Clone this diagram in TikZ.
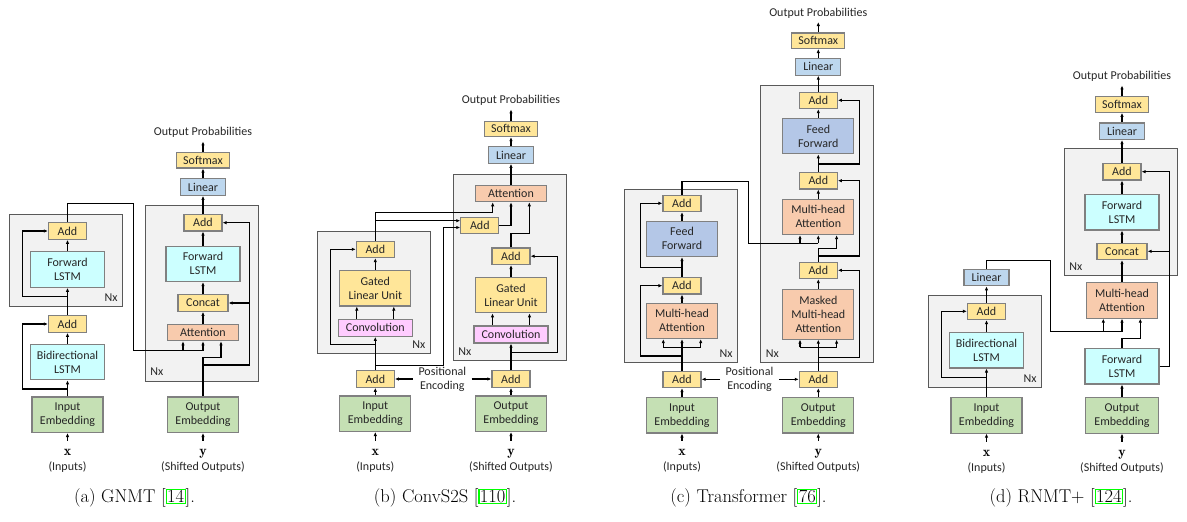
\documentclass[tikz,border=0pt]{standalone}
\usepackage{fontspec}
\newfontfamily\carlito{Carlito}
\usepackage{tikz}
\usetikzlibrary{arrows.meta}
\usepackage{xcolor}
\definecolor{addyel}{HTML}{FFE699}
\definecolor{linblue}{HTML}{BDD7EE}
\definecolor{ffblue}{HTML}{B4C7E7}
\definecolor{lstmcyan}{HTML}{CCFFFF}
\definecolor{attorange}{HTML}{F8CBAD}
\definecolor{embgreen}{HTML}{C5E0B4}
\definecolor{convpink}{HTML}{FFCCFF}
\definecolor{nxgray}{HTML}{F2F2F2}
\newcommand{\boxfont}{\carlito\fontsize{12}{14}\selectfont}
\newcommand{\refbox}[1]{[{\setlength{\fboxsep}{0.4pt}\setlength{\fboxrule}{1.1pt}\fcolorbox{green}{white}{#1}}]}

\begin{document}
\begin{tikzpicture}[
		x=1pt, y=-1pt,
		>={Latex[length=4pt,width=3.4pt]},
		line width=1.2pt,
		blk/.style={draw=black!50, line width=1.1pt, font=\boxfont, text=black!85, align=center, inner sep=0pt},
		addb/.style={blk, fill=addyel, minimum width=38pt, minimum height=16.5pt},
		softb/.style={blk, fill=addyel, minimum width=53pt, minimum height=15.5pt},
		catb/.style={blk, fill=addyel, minimum width=50pt, minimum height=16.5pt},
		linb/.style={blk, fill=linblue, minimum width=45pt, minimum height=16.5pt},
		bigb/.style={blk, minimum width=71pt, minimum height=35.5pt},
		lstmb/.style={bigb, fill=lstmcyan, minimum width=74pt},
		attb/.style={blk, fill=attorange, minimum width=71pt, minimum height=16pt},
		mhab/.style={bigb, fill=attorange},
		ffb/.style={bigb, fill=ffblue},
		glub/.style={bigb, fill=addyel},
		convb/.style={blk, fill=convpink, minimum width=74pt, minimum height=17pt},
		embb/.style={bigb, fill=embgreen},
		nxbox/.style={draw=black!65, fill=nxgray, line width=1pt, inner sep=0pt},
		nxlbl/.style={font=\boxfont, text=black!85, inner sep=5pt},
		outlbl/.style={font=\boxfont, text=black!85, inner sep=3pt},
		poslbl/.style={font=\boxfont, text=black!85, align=center, inner sep=5pt},
		sym/.style={inner sep=8pt, font=\fontsize{14}{16}\selectfont},
		caplbl/.style={font=\fontsize{18.5}{21}\selectfont}
	]

	\useasboundingbox[fill=white] (0,0) rectangle (1187,522);

	%% (a) GNMT
	\node[nxbox, minimum width=113.4pt, minimum height=92.4pt] (aEnc) at (66,260.5) {};
	\node[nxlbl, anchor=south east] (aEncN) at (aEnc.south east) {Nx};
	\node[nxbox, minimum width=113pt, minimum height=175.7pt] (aDec) at (201.8,293.2) {};
	\node[nxlbl, anchor=south west] (aDecN) at (aDec.south west) {Nx};

	\node[embb] (aEmbIn) at (67.5,414.7) {Input\\Embedding};
	\node[lstmb] (aBiL) at (67.5,362) {Bidirectional\\LSTM};
	\node[addb] (aAddE1) at (67.5,324) {Add};
	\node[lstmb] (aLstmE) at (67.5,269.5) {Forward\\LSTM};
	\node[addb] (aAddE2) at (67.5,231) {Add};

	\node[embb] (aEmbOut) at (203,414.7) {Output\\Embedding};
	\node[attb] (aAtt) at (203,332.7) {Attention};
	\node[catb] (aCat) at (203,303) {Concat};
	\node[lstmb] (aLstmD) at (203,263.8) {Forward\\LSTM};
	\node[addb] (aAddD) at (203,222.7) {Add};
	\node[linb] (aLin) at (203,187) {Linear};
	\node[softb] (aSoft) at (203,160.2) {Softmax};
	\node[outlbl] (aOut) at (203,132.7) {Output Probabilities};

	\node[sym, anchor=base] (aX) at (67.5,455.5) {$\mathbf{x}$};
	\node[outlbl, anchor=base] (aXl) at (67.5,470) {(Inputs)};
	\node[sym, anchor=base] (aY) at (203,455.5) {$\mathbf{y}$};
	\node[outlbl, anchor=base] (aYl) at (203,470) {(Shifted Outputs)};

	\coordinate (aJ1) at (67.5,389);
	\coordinate (aJ2) at (67.5,296.7);
	\coordinate (aK1) at (133.3,203.3);
	\coordinate (aJ3) at (203,350.7);
	\coordinate (aJ4) at (203,357.7);
	\coordinate (aJ5) at (203,365);

	\draw[->] (aX) -- (aEmbIn);
	\draw[->] (aEmbIn) -- (aBiL);
	\draw[->] (aJ1) -| ([xshift=-25.4pt]aAddE1.west) -- (aAddE1.west);
	\draw[->] (aBiL) -- (aAddE1);
	\draw[->] (aAddE1) -- (aLstmE);
	\draw[->] (aJ2) -| ([xshift=-25.4pt]aAddE2.west) -- (aAddE2.west);
	\draw[->] (aLstmE) -- (aAddE2);
	\draw (aAddE2.north) |- (aK1) |- (aJ3);
	\draw[->] ([xshift=-20pt]aJ3) -- ([xshift=-20pt]aAtt.south);
	\draw[->] (aJ3) -- (aAtt.south);

	\draw[->] (aY) -- (aEmbOut);
	\draw[->] (aEmbOut.north) |- ([xshift=18pt]aJ4) -- ([xshift=18pt]aAtt.south);
	\draw[->] (aJ5) -| ([xshift=27.3pt]aAddD.east) -- (aAddD.east);
	\draw[->] ([xshift=27.3pt]aAddD.east |- aCat.east) -- (aCat.east);
	\draw[->] (aAtt) -- (aCat);
	\draw[->] (aCat) -- (aLstmD);
	\draw[->] (aLstmD) -- (aAddD);
	\draw[->] (aAddD) -- (aLin);
	\draw[->] (aLin) -- (aSoft);
	\draw[->] (aSoft) -- (aOut);

	\node[caplbl] (aCap) at (134.5,498) {(a) GNMT \refbox{14}.};

	%% (b) ConvS2S
	\node[nxbox, minimum width=113pt, minimum height=121.6pt] (bEnc) at (373.8,292.5) {};
	\node[nxlbl, anchor=south east] (bEncN) at (bEnc.south east) {Nx};
	\node[nxbox, minimum width=113.4pt, minimum height=186.4pt] (bDec) at (510,267.5) {};
	\node[nxlbl, anchor=south west] (bDecN) at (bDec.south west) {Nx};

	\node[embb] (bEmbIn) at (375.3,413.7) {Input\\Embedding};
	\node[addb] (bAddPE) at (375.3,379) {Add};
	\node[convb] (bConvE) at (375.3,327.8) {Convolution};
	\node[glub] (bGluE) at (375.3,288.2) {Gated\\Linear Unit};
	\node[addb] (bAddE) at (375.3,249.3) {Add};

	\node[embb] (bEmbOut) at (511,413.7) {Output\\Embedding};
	\node[addb] (bAddPD) at (511,379) {Add};
	\node[convb] (bConvD) at (511,334.5) {Convolution};
	\node[glub] (bGluD) at (511,295) {Gated\\Linear Unit};
	\node[addb] (bAddD) at (511,256.2) {Add};
	\node[addb] (bAddX) at (479.8,225.3) {Add};
	\node[attb] (bAtt) at (511,193.7) {Attention};
	\node[linb] (bLin) at (511,155) {Linear};
	\node[softb] (bSoft) at (511,128.8) {Softmax};
	\node[outlbl] (bOut) at (511,100.7) {Output Probabilities};
	\node[poslbl] (bPos) at (442.3,379) {Positional\\Encoding};

	\node[sym, anchor=base] (bX) at (375.3,455.5) {$\mathbf{x}$};
	\node[outlbl, anchor=base] (bXl) at (375.3,470) {(Inputs)};
	\node[sym, anchor=base] (bY) at (511,455.5) {$\mathbf{y}$};
	\node[outlbl, anchor=base] (bYl) at (511,470) {(Shifted Outputs)};

	\coordinate (bJ1) at (375.3,365.3);
	\coordinate (bK1) at (443.3,227.5);
	\coordinate (bJ2) at (375.3,344.7);
	\coordinate (bJ3) at (375.3,212.3);
	\coordinate (bJ4) at (375.3,220.7);
	\coordinate (bJ5) at (511,352.3);
	\coordinate (bJ6) at (511,233.3);

	\draw[->] (bX) -- (bEmbIn);
	\draw[->] (bEmbIn) -- (bAddPE);
	\draw[->] (bPos) -- (bAddPE);
	\draw[->] (bAddPE) -- (bConvE);
	\draw[->] (bJ2) -| ([xshift=-25pt]bAddE.west) -- (bAddE.west);
	\draw[->] (bJ1) -| (bK1) -- (bK1 -| bAddX.west);
	\foreach \dx in {-18.5,18.5}
		\draw[->] ([xshift=\dx pt]bConvE.north) -- ([xshift=\dx pt]bGluE.south);
	\draw[->] (bGluE) -- (bAddE);
	\draw[->] (bAddE.north) -- (bJ3) -| ([xshift=-18.3pt]bAtt.south);
	\draw[->] (bJ4) -- (bJ4 -| bAddX.west);
	\draw[->] (bAddX.east) -| (bAtt.south);

	\draw[->] (bY) -- (bEmbOut);
	\draw[->] (bEmbOut) -- (bAddPD);
	\draw[->] (bPos) -- (bAddPD);
	\draw[->] (bAddPD) -- (bConvD);
	\draw[->] (bJ5) -| ([xshift=26.8pt]bAddD.east) -- (bAddD.east);
	\foreach \dx in {-18.5,18.5}
		\draw[->] ([xshift=\dx pt]bConvD.north) -- ([xshift=\dx pt]bGluD.south);
	\draw[->] (bGluD) -- (bAddD);
	\draw[->] (bAddD.north) -- (bJ6) -| ([xshift=18.3pt]bAtt.south);
	\draw[->] (bAtt) -- (bLin);
	\draw[->] (bLin) -- (bSoft);
	\draw[->] (bSoft) -- (bOut);

	\node[caplbl] (bCap) at (445,498) {(b) ConvS2S \refbox{110}.};

	%% (c) Transformer
	\node[nxbox, minimum width=113.4pt, minimum height=173.3pt] (cEnc) at (681,275.7) {};
	\node[nxlbl, anchor=south east] (cEncN) at (cEnc.south east) {Nx};
	\node[nxbox, minimum width=112.6pt, minimum height=276.6pt] (cDec) at (817,224) {};
	\node[nxlbl, anchor=south west] (cDecN) at (cDec.south west) {Nx};

	\node[embb] (cEmbIn) at (682,415.2) {Input\\Embedding};
	\node[addb] (cAddPE) at (682,379.3) {Add};
	\node[mhab] (cMhaE) at (682,320.8) {Multi-head\\Attention};
	\node[addb] (cAddE1) at (682,285.7) {Add};
	\node[ffb] (cFfE) at (682,238.8) {Feed\\Forward};
	\node[addb] (cAddE2) at (682,203.3) {Add};

	\node[embb] (cEmbOut) at (818.3,415.2) {Output\\Embedding};
	\node[addb] (cAddPD) at (818.3,379.3) {Add};
	\node[mhab, minimum height=49.7pt] (cMmha) at (818.3,314.2) {Masked\\Multi-head\\Attention};
	\node[addb] (cAddD1) at (818.3,270.3) {Add};
	\node[mhab] (cMhaD) at (818.3,216.8) {Multi-head\\Attention};
	\node[addb] (cAddD2) at (818.3,180.7) {Add};
	\node[ffb] (cFfD) at (818.3,136) {Feed\\Forward};
	\node[addb] (cAddD3) at (818.3,100.3) {Add};
	\node[linb] (cLin) at (818.3,66.8) {Linear};
	\node[softb] (cSoft) at (818.3,40.7) {Softmax};
	\node[outlbl] (cOut) at (818.3,13.3) {Output Probabilities};
	\node[poslbl] (cPos) at (749.5,379.3) {Positional\\Encoding};

	\node[sym, anchor=base] (cX) at (682,455.5) {$\mathbf{x}$};
	\node[outlbl, anchor=base] (cXl) at (682,470) {(Inputs)};
	\node[sym, anchor=base] (cY) at (818.3,455.5) {$\mathbf{y}$};
	\node[outlbl, anchor=base] (cYl) at (818.3,470) {(Shifted Outputs)};

	\coordinate (cJ1) at (682,347.3);
	\coordinate (cJ2) at (682,356);
	\coordinate (cJ3) at (682,267.3);
	\coordinate (cK1) at (748.3,181.7);
	\coordinate (cJ4) at (818.3,243.3);
	\coordinate (cJ5) at (818.3,347.3);
	\coordinate (cJ6) at (818.3,357.3);
	\coordinate (cJ7) at (818.3,248.3);
	\coordinate (cJ8) at (818.3,256);
	\coordinate (cJ9) at (818.3,164);

	\draw[->] (cX) -- (cEmbIn);
	\draw[->] (cEmbIn) -- (cAddPE);
	\draw[->] (cPos) -- (cAddPE);
	\draw (cAddPE) -- (cJ1);
	\draw ([xshift=-18.7pt]cJ1) -- ([xshift=18.7pt]cJ1);
	\foreach \dx in {-18.7,0,18.7}
		\draw[->] ([xshift=\dx pt]cJ1) -- ([xshift=\dx pt]cMhaE.south);
	\draw[->] (cJ2) -| ([xshift=-22.3pt]cAddE1.west) -- (cAddE1.west);
	\draw[->] (cMhaE) -- (cAddE1);
	\draw[->] (cAddE1) -- (cFfE);
	\draw[->] (cJ3) -| ([xshift=-22.3pt]cAddE2.west) -- (cAddE2.west);
	\draw[->] (cFfE) -- (cAddE2);
	\draw (cAddE2.north) |- (cK1) |- (cJ4);
	\foreach \dx in {-18.3,0}
		\draw[->] ([xshift=\dx pt]cJ4) -- ([xshift=\dx pt]cMhaD.south);

	\draw[->] (cY) -- (cEmbOut);
	\draw[->] (cEmbOut) -- (cAddPD);
	\draw[->] (cPos) -- (cAddPD);
	\draw (cAddPD) -- (cJ5);
	\draw ([xshift=-18.3pt]cJ5) -- ([xshift=18.3pt]cJ5);
	\foreach \dx in {-18.3,0,18.3}
		\draw[->] ([xshift=\dx pt]cJ5) -- ([xshift=\dx pt]cMmha.south);
	\draw[->] (cJ6) -| ([xshift=22pt]cAddD1.east) -- (cAddD1.east);
	\draw[->] (cMmha) -- (cAddD1);
	\draw[->] (cAddD1.north) -- (cJ7) -| ([xshift=18.3pt]cMhaD.south);
	\draw[->] (cJ8) -| ([xshift=22pt]cAddD2.east) -- (cAddD2.east);
	\draw[->] (cMhaD) -- (cAddD2);
	\draw[->] (cAddD2) -- (cFfD);
	\draw[->] (cJ9) -| ([xshift=22pt]cAddD3.east) -- (cAddD3.east);
	\draw[->] (cFfD) -- (cAddD3);
	\draw[->] (cAddD3) -- (cLin);
	\draw[->] (cLin) -- (cSoft);
	\draw[->] (cSoft) -- (cOut);

	\node[caplbl] (cCap) at (748.5,498) {(c) Transformer \refbox{76}.};

	%% (d) RNMT+
	\node[nxbox, minimum width=113.4pt, minimum height=92.3pt] (dEnc) at (985,341.2) {};
	\node[nxlbl, anchor=south east] (dEncN) at (dEnc.south east) {Nx};
	\node[nxbox, minimum width=113.4pt, minimum height=126.7pt] (dDec) at (1121,212.3) {};
	\node[nxlbl, anchor=south west] (dDecN) at (dDec.south west) {Nx};

	\node[embb] (dEmbIn) at (986.5,415.3) {Input\\Embedding};
	\node[lstmb] (dBiL) at (986.5,350.2) {Bidirectional\\LSTM};
	\node[addb] (dAddE) at (986.5,311.3) {Add};
	\node[linb] (dLinE) at (986.5,277.5) {Linear};

	\node[embb, minimum width=73pt] (dEmbOut) at (1122,415.3) {Output\\Embedding};
	\node[lstmb] (dLstmL) at (1122,366.2) {Forward\\LSTM};
	\node[mhab] (dMha) at (1122,300.3) {Multi-head\\Attention};
	\node[catb] (dCat) at (1122,251.3) {Concat};
	\node[lstmb] (dLstmU) at (1122,212.2) {Forward\\LSTM};
	\node[addb] (dAdd) at (1122,171.7) {Add};
	\node[linb] (dLin) at (1122,131.2) {Linear};
	\node[softb] (dSoft) at (1122,104.5) {Softmax};
	\node[outlbl] (dOut) at (1122,76.7) {Output Probabilities};

	\node[sym, anchor=base] (dX) at (986.5,456.5) {$\mathbf{x}$};
	\node[outlbl, anchor=base] (dXl) at (986.5,471) {(Inputs)};
	\node[sym, anchor=base] (dY) at (1122,456.5) {$\mathbf{y}$};
	\node[outlbl, anchor=base] (dYl) at (1122,471) {(Shifted Outputs)};

	\coordinate (dJ1) at (986.5,377.3);
	\coordinate (dK1) at (1050.7,260.3);
	\coordinate (dJ2) at (1122,331.7);
	\coordinate (dJ3) at (1122,338.7);

	\draw[->] (dX) -- (dEmbIn);
	\draw[->] (dEmbIn) -- (dBiL);
	\draw[->] (dJ1) -| ([xshift=-25.5pt]dAddE.west) -- (dAddE.west);
	\draw[->] (dBiL) -- (dAddE);
	\draw[->] (dAddE) -- (dLinE);
	\draw (dLinE.north) |- (dK1) |- (dJ2);
	\foreach \dx in {-18.7,0}
		\draw[->] ([xshift=\dx pt]dJ2) -- ([xshift=\dx pt]dMha.south);

	\draw[->] (dY) -- (dEmbOut);
	\draw[->] (dEmbOut) -- (dLstmL);
	\draw[->] (dLstmL.north) -- (dJ3) -| ([xshift=18.3pt]dMha.south);
	\draw[->] (dLstmL.east) -| ([xshift=28.3pt]dAdd.east) -- (dAdd.east);
	\draw[->] ([xshift=28.3pt]dAdd.east |- dCat.east) -- (dCat.east);
	\draw[->] (dMha) -- (dCat);
	\draw[->] (dCat) -- (dLstmU);
	\draw[->] (dLstmU) -- (dAdd);
	\draw[->] (dAdd) -- (dLin);
	\draw[->] (dLin) -- (dSoft);
	\draw[->] (dSoft) -- (dOut);

	\node[caplbl] (dCap) at (1061,498) {(d) RNMT+ \refbox{124}.};

\end{tikzpicture}
\end{document}
